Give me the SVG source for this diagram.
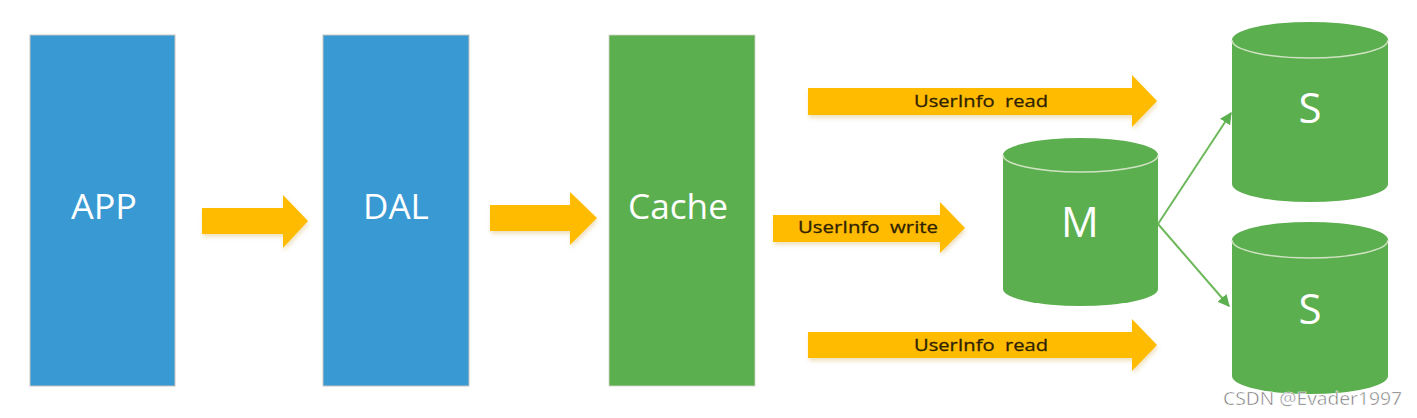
<svg xmlns="http://www.w3.org/2000/svg" width="1417" height="418" viewBox="0 0 1417 418">
<style>
.blue{fill:#3999d3;stroke:#c9c3bd;stroke-width:1}
.green{fill:#5caf4f;stroke:#d8d2c8;stroke-width:0.8}
.cyl{fill:#5caf4f}
.rim{fill:none;stroke:#cfe3c2;stroke-width:1.5}
.big{font-family:"Open Sans","Noto Sans",sans-serif;fill:#ffffff;text-anchor:middle}
.arrow{fill:#ffbb00}
.lbl{font-family:"Open Sans","Noto Sans",sans-serif;font-size:17px;fill:#2e2200;text-anchor:middle;white-space:pre;stroke:#2e2200;stroke-width:0.3}
.link{stroke:#6cb85a;stroke-width:2;fill:none}
</style>
<defs>
<filter id="sh" x="-10%" y="-30%" width="120%" height="160%">
<feDropShadow dx="1" dy="3" stdDeviation="2" flood-color="#c08a00" flood-opacity="0.25"/>
</filter>
<marker id="ah" viewBox="0 0 10 10" refX="9" refY="5" markerWidth="6" markerHeight="6" orient="auto" markerUnits="strokeWidth">
<path d="M0,0 L10,5 L0,10 Z" fill="#5caf4f"/>
</marker>
</defs>
<rect width="1417" height="418" fill="#ffffff"/>

<g id="app">
<rect class="blue" x="30" y="35" width="145" height="351"/>
<text class="big" x="104" y="219" font-size="35" textLength="66" lengthAdjust="spacingAndGlyphs">APP</text>
</g>
<g id="dal">
<rect class="blue" x="323" y="35" width="146" height="351"/>
<text class="big" x="396" y="219" font-size="35">DAL</text>
</g>
<g id="cache">
<rect class="green" x="609" y="35" width="146" height="351"/>
<text class="big" x="678" y="219" font-size="35" textLength="100" lengthAdjust="spacingAndGlyphs">Cache</text>
</g>

<g id="m">
<path class="cyl" d="M1003,155 A77.5,17 0 0 1 1158,155 L1158,289 A77.5,17 0 0 1 1003,289 Z"/>
<path class="rim" d="M1003,155 A77.5,17 0 0 0 1158,155"/>
<text class="big" x="1080" y="237" font-size="42">M</text>
</g>
<g id="s1">
<path class="cyl" d="M1232,40 A78,18 0 0 1 1388,40 L1388,184 A78,18 0 0 1 1232,184 Z"/>
<path class="rim" d="M1232,40 A78,18 0 0 0 1388,40"/>
<text class="big" x="1310" y="123" font-size="42">S</text>
</g>
<g id="s2">
<path class="cyl" d="M1232,240 A78,18 0 0 1 1388,240 L1388,376 A78,18 0 0 1 1232,376 Z"/>
<path class="rim" d="M1232,240 A78,18 0 0 0 1388,240"/>
<text class="big" x="1310" y="324" font-size="42">S</text>
</g>

<g id="connectors">
<path class="arrow" filter="url(#sh)" d="M202,208 L283,208 L283,195 L308,221 L283,248 L283,234 L202,234 Z"/>
<path class="arrow" filter="url(#sh)" d="M490,205 L570,205 L570,192 L597,218 L570,245 L570,231 L490,231 Z"/>
<path class="arrow" filter="url(#sh)" d="M808,88 L1132,88 L1132,75 L1157,101 L1132,127 L1132,115 L808,115 Z"/>
<text class="lbl" x="981" y="107" textLength="134" lengthAdjust="spacingAndGlyphs">UserInfo  read</text>
<path class="arrow" filter="url(#sh)" d="M773,215 L940,215 L940,202 L965,228 L940,253 L940,242 L773,242 Z"/>
<text class="lbl" x="868" y="233" textLength="140" lengthAdjust="spacingAndGlyphs">UserInfo  write</text>
<path class="arrow" filter="url(#sh)" d="M808,332 L1132,332 L1132,319 L1157,345 L1132,371 L1132,358 L808,358 Z"/>
<text class="lbl" x="981" y="351" textLength="134" lengthAdjust="spacingAndGlyphs">UserInfo  read</text>
<path class="link" marker-end="url(#ah)" d="M1158,224 L1231,113"/>
<path class="link" marker-end="url(#ah)" d="M1158,224 L1229,306"/>
</g>

<text x="1223" y="405" font-family="Open Sans,Noto Sans,sans-serif" font-size="18" fill="#6e6e6e" stroke="#ffffff" stroke-width="0.5" textLength="179" lengthAdjust="spacingAndGlyphs">CSDN @Evader1997</text>
</svg>
